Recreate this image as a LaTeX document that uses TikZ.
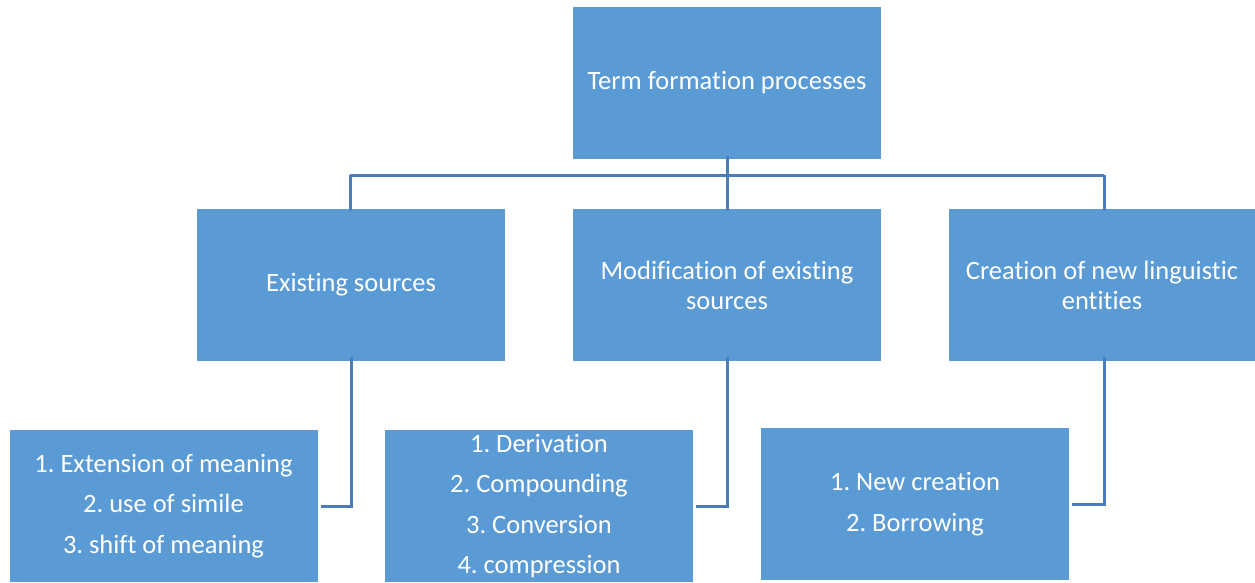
\documentclass[tikz,border=0pt]{standalone}
\usepackage{fontspec}
\setmainfont{Carlito}[Ligatures={NoCommon,NoRequired,NoContextual},RawFeature={-liga;-clig;-calt;-dlig}]
\frenchspacing
\definecolor{boxfill}{HTML}{5B9BD5}
\definecolor{linecol}{RGB}{74,126,187}
\begin{document}
\begin{tikzpicture}[x=1pt,y=-1pt,
  box/.style={fill=boxfill,draw=none,text=white,minimum width=308pt,minimum height=152pt,
    align=center,inner sep=0pt,font=\fontsize{26.5}{30}\selectfont},
  listbox/.style={box,font=\fontsize{26.5}{40.5}\selectfont},
  conn/.style={draw=linecol,line width=3pt}]
\useasboundingbox (0,0) rectangle (1255,582);
\node[box] (top) at (727,83) {\raisebox{-2pt}{Term formation processes}};
\node[box] (m1) at (351,285) {Existing sources};
\node[box] (m2) at (727,285) {Modification of existing\\sources};
\node[box,minimum width=306pt] (m3) at (1102,285) {Creation of new linguistic\\entities};
\node[listbox] (b1) at (163.5,506) {1. Extension of meaning\\2. use of simile\\3. shift of meaning};
\node[listbox] (b2) at (539,506) {1. Derivation\\2. Compounding\\3. Conversion\\4. compression};
\node[listbox] (b3) at (915,504) {1. New creation\\2. Borrowing};
\coordinate (bus) at (727,175);
\coordinate (busL) at (350,175);
\coordinate (busR) at (1104,175);
\draw[conn] ([yshift=3pt]top.south) -- ([yshift=-2pt]m2.north);
\draw[conn] (busL) -- (busR);
\draw[conn] (busL) -- ([yshift=-2pt]busL |- m1.north);
\draw[conn] (busR) -- ([yshift=-2pt]busR |- m3.north);
\draw[conn] ([yshift=4pt]m1.south) |- ([xshift=3pt]b1.east);
\draw[conn] ([yshift=4pt]m2.south) |- ([xshift=3pt]b2.east);
\draw[conn] ([yshift=4pt,xshift=2pt]m3.south) |- ([xshift=3pt]b3.east);
\end{tikzpicture}
\end{document}
